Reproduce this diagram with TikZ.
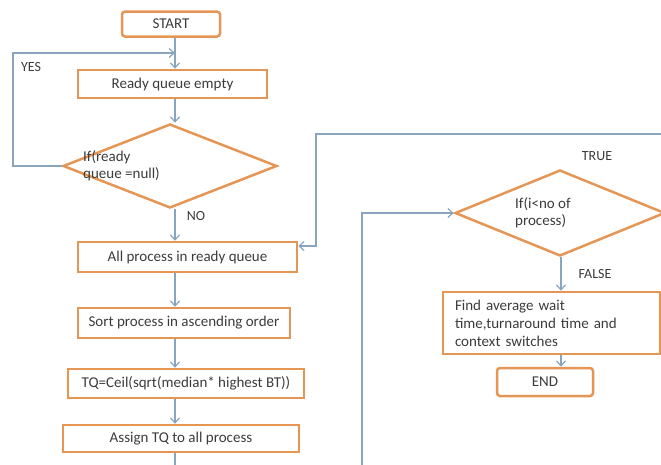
\documentclass[tikz,border=0pt]{standalone}
\usepackage{fontspec}
\setmainfont{Carlito}
\usetikzlibrary{shapes.geometric,arrows.meta}

\definecolor{boxor}{RGB}{229,150,85}
\definecolor{flowgr}{RGB}{138,164,190}
\definecolor{txtgr}{RGB}{60,60,60}

\begin{document}
\begin{tikzpicture}[
  x=1pt, y=-1pt,
  font=\fontsize{15}{18}\selectfont, text=txtgr,
  stp/.style={draw=boxor, line width=2.5pt, fill=white, rounded corners=3pt, inner sep=0pt},
  blk/.style={draw=boxor, line width=2.5pt, fill=white, inner sep=0pt},
  dec/.style={diamond, draw=boxor, line width=2.5pt, fill=white, inner sep=0pt},
  flow/.style={draw=flowgr, line width=1.2pt, -{Straight Barb[length=5pt,width=9pt]}},
  lnk/.style={draw=flowgr, line width=1.2pt},
  lbl/.style={font=\fontsize{14}{16}\selectfont},
  dtxt/.style={anchor=west, align=left, inner sep=0pt, font=\fontsize{15}{17}\selectfont}
]
\useasboundingbox (0,0) rectangle (661,464);
\clip (0,0) rectangle (661,464);
\coordinate (spine) at (175,0);
\coordinate (spinr) at (561,0);

% ---------------- left column ----------------
\node[stp, minimum width=98pt, minimum height=25pt] (start) at (171,24) {START};
\node[blk, minimum width=189pt, minimum height=28pt] (ready) at (172.5,84) {Ready queue empty};
\node[dec, minimum width=214pt, minimum height=84pt] (qnull) at (170,166) {};
\node[dtxt] (qnulltxt) at (83,166) {If(ready\\queue =null)};
\node[blk, minimum width=219pt, minimum height=30pt] (all) at (187.5,257) {All process in ready queue};
\node[blk, minimum width=212pt, minimum height=30pt] (sort) at (184,323) {Sort process in ascending order};
\node[blk, minimum width=236pt, minimum height=29pt] (tq) at (186,383.5) {TQ=Ceil(sqrt(median* highest BT))};
\node[blk, minimum width=236pt, minimum height=27pt] (assign) at (181,438.5) {Assign TQ to all process};

% ---------------- right column ----------------
\node[dec, minimum width=210pt, minimum height=86pt] (qproc) at (560,213) {};
\node[dtxt] (qproctxt) at (515,213) {If(i<no of\\process)};
\node[blk, minimum width=217pt, minimum height=62pt, text width=193pt, align=left,
      font=\fontsize{15}{18}\selectfont] (avg) at (551.5,323) {Find average wait\\time,turnaround time and\\context switches};
\node[stp, minimum width=96pt, minimum height=28pt] (end) at (545,382) {END};

% labels
\node[lbl] (yes) at (31,67) {YES};
\node[lbl] (no) at (196,216) {NO};
\node[lbl] (true) at (597,156) {TRUE};
\node[lbl] (false) at (595,274) {FALSE};

% connectors
\coordinate (yesbend) at (13,53);
\coordinate (backtop) at (316,134);
\coordinate (low) at (362,490);
\draw[flow] (start.south -| spine) -- (ready.north -| spine);
\draw[flow] (ready.south -| spine) -- (qnull.north -| spine);
\draw[flow] (qnull.west) -| (yesbend) -- (yesbend -| spine);
\draw[flow] (qnull.south -| spine) -- (all.north -| spine);
\draw[flow] (all.south -| spine) -- (sort.north -| spine);
\draw[flow] (sort.south -| spine) -- (tq.north -| spine);
\draw[flow] (tq.south -| spine) -- (assign.north -| spine);
\draw[flow] (assign.south -| spine) |- (low) |- (qproc.west);
\draw[flow] (qproc.east) -- ++(20,0) |- (backtop) |- ([yshift=11pt]all.east);
\draw[flow] (qproc.south -| spinr) -- (avg.north -| spinr);
\draw[flow] (avg.south -| spinr) -- (end.north -| spinr);
\end{tikzpicture}
\end{document}
